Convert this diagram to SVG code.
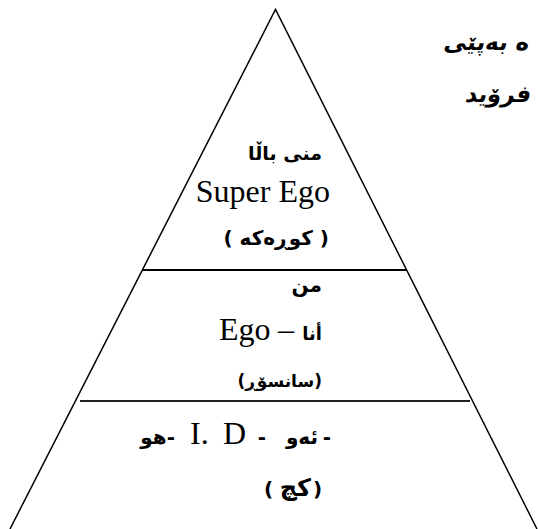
<svg xmlns="http://www.w3.org/2000/svg" width="538" height="529" viewBox="0 0 538 529">
<style>
.ar{font-family:"DejaVu Sans",sans-serif;font-weight:bold;font-size:20px;fill:#000}
.en{font-family:"Liberation Serif","Times New Roman",serif;font-size:32px;fill:#000}
.tt{font-family:"DejaVu Sans",sans-serif;font-weight:bold;font-size:23px;fill:#000}
</style>
<rect width="538" height="529" fill="#fff"/>
<g id="connectors" fill="none" stroke="#000">
<path d="M10,529 L275.5,9.5 L537,529" stroke-width="1.5"/>
<line x1="142" y1="270" x2="407" y2="270" stroke-width="2"/>
<line x1="80" y1="401" x2="470" y2="401" stroke-width="2" stroke="#222"/>
</g>
<g id="title">
<g transform="translate(443,50) skewX(-10)"><text class="tt" x="0" y="0">ه بەپێی</text></g>
<g transform="translate(530,102) skewX(-10)"><text class="tt" x="0" y="0" text-anchor="end">فرۆید</text></g>
</g>
<g id="superego">
<text class="ar" x="322" y="160" text-anchor="end" style="font-size:19px">منی باڵا</text>
<text class="en" x="330" y="202" text-anchor="end">Super Ego</text>
<text class="ar" x="329" y="245" text-anchor="end">( کوڕەکە )</text>
</g>
<g id="ego">
<text class="ar" x="322" y="292" text-anchor="end">من</text>
<text class="en" x="219" y="340">Ego</text>
<text class="en" x="278" y="340">–</text>
<text class="ar" x="322" y="340" text-anchor="end" style="font-size:18px">أنا</text>
<text class="ar" x="322" y="387" text-anchor="end" style="font-size:17px">(سانسۆڕ)</text>
</g>
<g id="id">
<text class="ar" x="331" y="444" text-anchor="end">-</text>
<text class="ar" x="318" y="444" text-anchor="end">ئەو</text>
<text class="ar" x="266" y="444" text-anchor="end">-</text>
<text class="en" x="190" y="444">I.<tspan x="223">D</tspan></text>
<text class="ar" x="175" y="444" text-anchor="end">هو-</text>
<text class="ar" x="264" y="496">(</text>
<text class="ar" x="311" y="496" text-anchor="end" style="font-size:24px">کچ</text>
<text class="ar" x="313" y="496">)</text>
</g>
</svg>
